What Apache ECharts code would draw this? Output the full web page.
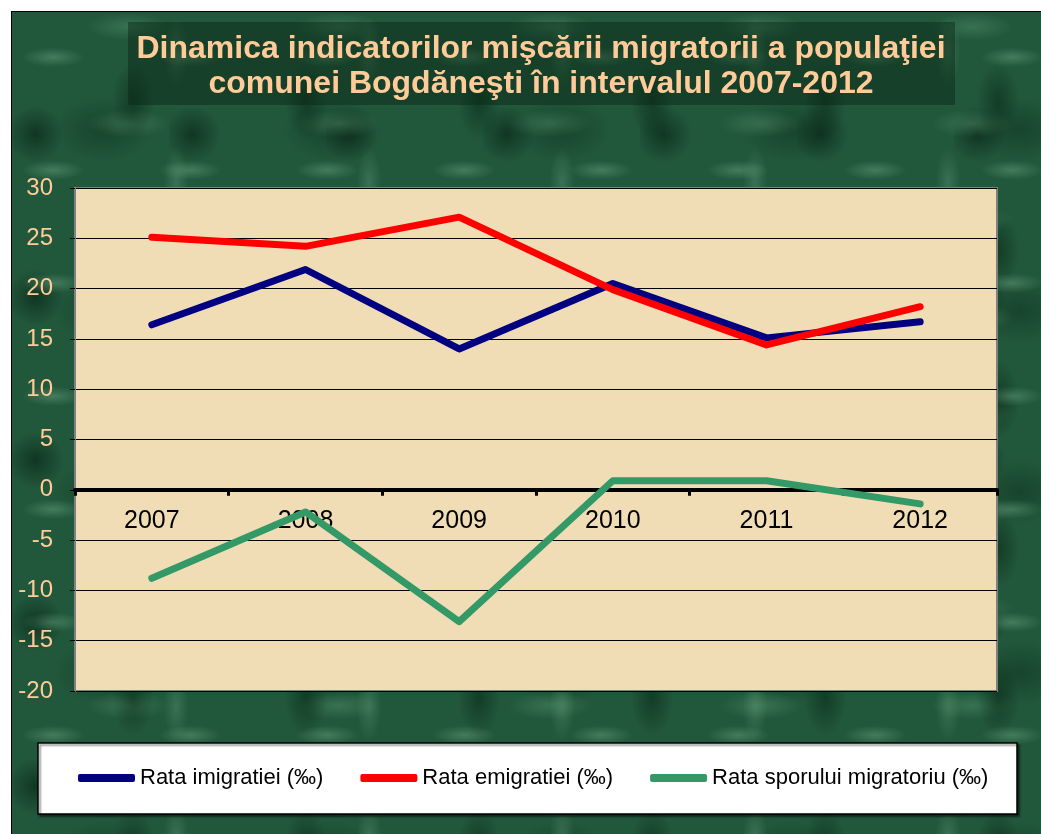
<!DOCTYPE html>
<html>
<head>
<meta charset="utf-8">
<script src="https://cdn.jsdelivr.net/npm/echarts@6/dist/echarts.min.js"></script>
<style>
  html, body { margin: 0; padding: 0; background: #fff; }
  #marble {
    position: absolute; left: 11px; top: 11px; right: 0; bottom: 0;
    border-top: 1px solid #000; border-left: 1px solid #000;
    background-color: #21573b;
    background-image:
      radial-gradient(ellipse 45px 14px at 30% 40%, rgba(140,200,160,0.32), rgba(0,0,0,0) 70%),
      radial-gradient(ellipse 30px 55px at 70% 60%, rgba(8,38,20,0.55), rgba(0,0,0,0) 70%),
      radial-gradient(ellipse 60px 20px at 55% 15%, rgba(110,175,135,0.30), rgba(0,0,0,0) 70%),
      radial-gradient(ellipse 40px 40px at 15% 75%, rgba(6,32,18,0.6), rgba(0,0,0,0) 70%),
      radial-gradient(ellipse 18px 50px at 85% 30%, rgba(120,180,140,0.28), rgba(0,0,0,0) 70%),
      radial-gradient(ellipse 70px 45px at 40% 65%, rgba(12,45,26,0.45), rgba(0,0,0,0) 70%);
    background-size: 137px 113px, 173px 149px, 211px 97px, 157px 163px, 193px 131px, 229px 181px;
  }
  #main { position: absolute; left: 0; top: 0; width: 1041px; height: 834px; }
</style>
</head>
<body>
<div id="marble"></div>
<div id="main"></div>
<script>
// date
var years = ['2007', '2008', '2009', '2010', '2011', '2012']
var imigratie = [16.4, 21.9, 14.0, 20.5, 15.1, 16.7]
var emigratie = [25.1, 24.2, 27.1, 19.9, 14.4, 18.2]
var sporMigratoriu = [-8.8, -2.2, -13.1, 0.9, 0.9, -1.4]
var yTicks = [-20, -15, -10, -5, 0, 5, 10, 15, 20, 25, 30]

var titlu = 'Dinamica indicatorilor mişcării migratorii a populaţiei\ncomunei Bogdăneşti în intervalul 2007-2012'
var font = "'Liberation Sans', Arial, sans-serif"

// grid: sus 188, jos 691; axa categoriilor trece prin zero
var gridTop = 188, gridBottom = 691
var yMin = yTicks[0], yMax = yTicks[yTicks.length - 1]
var zeroFromBottom = (gridBottom - gridTop) * (0 - yMin) / (yMax - yMin)

var chart = echarts.init(document.getElementById('main'))

var option = {
  backgroundColor: 'transparent',
  animation: false,
  graphic: [
    {
      type: 'rect',
      z: -1,
      shape: { x: 128, y: 22, width: 827, height: 83 },
      style: { fill: 'rgba(8, 38, 20, 0.45)' }
    },
    {
      type: 'text',
      x: 541,
      y: 32,
      style: {
        text: titlu,
        fill: '#FFCC99',
        font: 'bold 32px ' + font,
        lineHeight: 35,
        textAlign: 'center',
        textVerticalAlign: 'top'
      }
    },
    {
      type: 'rect',
      z: -1,
      shape: { x: 38, y: 743, width: 979, height: 71 },
      style: {
        fill: '#fff', stroke: '#000', lineWidth: 1.5,
        shadowColor: 'rgba(0,0,0,0.5)', shadowOffsetX: 2, shadowOffsetY: 2, shadowBlur: 2
      }
    }
  ],
  legend: {
    left: 78,
    top: 767,
    padding: 0,
    itemWidth: 57,
    itemHeight: 8,
    itemGap: 37,
    icon: 'roundRect',
    textStyle: { fontFamily: font, fontSize: 22, color: '#000' },
    data: ['Rata imigratiei (‰)', 'Rata emigratiei (‰)', 'Rata sporului migratoriu (‰)']
  },
  grid: {
    left: 75, right: 44, top: gridTop, bottom: 834 - gridBottom,
    show: true,
    backgroundColor: '#F0DDB6',
    borderColor: '#808080',
    borderWidth: 2
  },
  xAxis: {
    type: 'category',
    data: years,
    boundaryGap: true,
    position: 'bottom',
    offset: -zeroFromBottom,
    axisLine: { onZero: false, lineStyle: { color: '#000', width: 4 } },
    axisTick: { show: true, length: 6, lineStyle: { color: '#000', width: 3 } },
    axisLabel: { color: '#000', fontFamily: font, fontSize: 25, margin: 19 },
    splitLine: { show: false }
  },
  yAxis: {
    type: 'value',
    min: yMin,
    max: yMax,
    interval: 5,
    axisLine: { show: true, lineStyle: { color: '#808080', width: 2 } },
    axisTick: { show: true, length: 5, lineStyle: { color: '#000', width: 1 } },
    axisLabel: { color: '#FFCC99', fontFamily: font, fontSize: 24, margin: 22 },
    splitLine: { show: true, lineStyle: { color: '#000', width: 1 } }
  },
  series: [
    {
      name: 'Rata imigratiei (‰)',
      type: 'line',
      data: imigratie,
      symbol: 'none',
      color: '#000080',
      lineStyle: { width: 7, color: '#000080', cap: 'round', join: 'round' }
    },
    {
      name: 'Rata emigratiei (‰)',
      type: 'line',
      data: emigratie,
      symbol: 'none',
      color: '#FF0000',
      lineStyle: { width: 7, color: '#FF0000', cap: 'round', join: 'round' }
    },
    {
      name: 'Rata sporului migratoriu (‰)',
      type: 'line',
      data: sporMigratoriu,
      symbol: 'none',
      color: '#339966',
      lineStyle: { width: 7, color: '#339966', cap: 'round', join: 'round' }
    }
  ]
}

chart.setOption(option)
</script>
</body>
</html>
